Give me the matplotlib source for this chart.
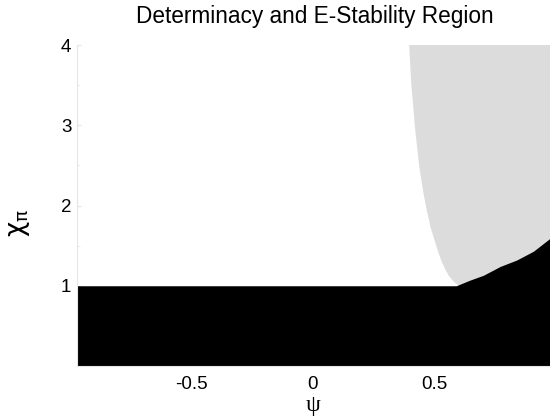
import matplotlib
matplotlib.use("Agg")
import matplotlib.pyplot as plt

plt.rcParams['font.family'] = ['Liberation Sans', 'DejaVu Sans']

# Determinacy region (black): upper boundary of chi_pi as function of psi
det_psi = [-0.97, 0.59, 0.646, 0.701, 0.770, 0.838, 0.907, 0.975, 1.0]
det_chi = [1.0, 1.0, 1.07, 1.13, 1.24, 1.32, 1.43, 1.59, 1.64]

# E-stability region (light gray): left boundary psi as function of chi_pi
es_chi = [1.0, 1.05, 1.12, 1.20, 1.30, 1.40, 1.55, 1.73, 1.95, 2.15, 2.50, 3.00, 3.23, 3.50, 4.00]
es_psi = [0.600, 0.580, 0.560, 0.545, 0.530, 0.518, 0.502, 0.484, 0.468, 0.455, 0.437, 0.419, 0.413, 0.405, 0.396]

x_ticks = [-0.5, 0, 0.5, 1]
x_ticklabels = ['-0.5', '0', '0.5', '1']
y_ticks = [1, 2, 3, 4]
y_ticklabels = ['1', '2', '3', '4']

fig = plt.figure(figsize=(5.5, 4.17), dpi=100)
ax = fig.add_axes([77/550, 51/417, 479/550, 321/417])

xlim = (-0.97, 1.0)
ylim = (0, 4)

# gray E-stability region (its lower part is hidden under the black region)
ax.fill(list(es_psi) + [xlim[1], xlim[1]],
        list(es_chi) + [ylim[1], 0.9],
        color='#dcdcdc', lw=0, zorder=1)

# black determinacy region
ax.fill_between(det_psi, 0, det_chi, color='black', lw=0, zorder=2)

ax.set_xlim(*xlim)
ax.set_ylim(*ylim)
ax.set_xticks(x_ticks)
ax.set_xticklabels(x_ticklabels)
ax.set_yticks(y_ticks)
ax.set_yticklabels(y_ticklabels)
ax.set_yticks([0.5, 1.5, 2.5, 3.5], minor=True)
ax.tick_params(axis='both', labelsize=13.5, direction='in', length=3,
               color='#e6e6e6')
ax.tick_params(axis='y', which='major', pad=4)
ax.tick_params(axis='y', which='minor', direction='in', length=2, color='#e6e6e6')
ax.tick_params(axis='x', length=0, pad=7)

for s in ['top', 'right']:
    ax.spines[s].set_visible(False)
ax.spines['left'].set_color('#e6e6e6')
ax.spines['bottom'].set_color('#e6e6e6')
ax.spines['left'].set_linewidth(0.8)
ax.spines['bottom'].set_linewidth(0.8)

fig.text(315/550, 1 - 16/417, 'Determinacy and E-Stability Region',
         fontsize=16.3, ha='center', va='center')
fig.text(313/550, 1 - 406/417, 'ψ', family=['Liberation Serif', 'DejaVu Serif'],
         fontsize=17, ha='center', va='center')
fig.text(20/550, 1 - 223/417, r'$\mathrm{\chi}_{\mathrm{\pi}}$', fontsize=19,
         rotation=90, ha='center', va='center')

fig.savefig('out.png', dpi=100)
